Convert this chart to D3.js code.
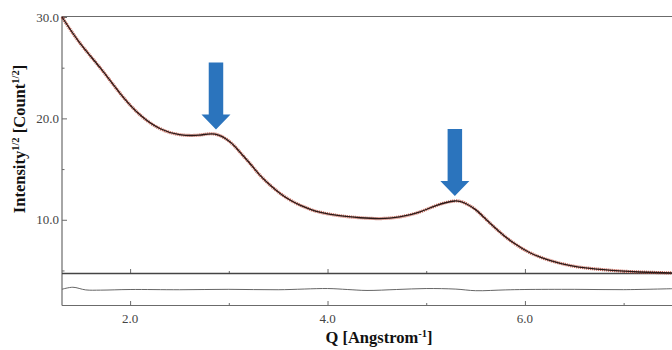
<!DOCTYPE html>
<html>
<head>
<meta charset="utf-8">
<script src="https://cdn.jsdelivr.net/npm/d3@7"></script>
<style>
  html, body { margin: 0; padding: 0; background: #fff; }
  svg { display: block; }
  text { font-family: "Liberation Serif", "Times New Roman", serif; }
</style>
</head>
<body>
<svg id="chart" width="672" height="350"></svg>
<script>
// Scattering profile: Q (1/Angstrom) vs sqrt(intensity)
const qValues = [1.31, 1.49, 1.70, 1.90, 2.10, 2.30, 2.50, 2.70, 2.86, 3.01, 3.11, 3.21, 3.31,
  3.42, 3.52, 3.62, 3.72, 3.82, 3.92, 4.12, 4.33, 4.53, 4.73, 4.93, 5.10, 5.29, 5.40, 5.50,
  5.61, 5.75, 5.88, 6.05, 6.25, 6.45, 6.66, 6.96, 7.16, 7.49];
const sqrtIntensity = [30.0, 27.45, 24.95, 22.45, 20.35, 19.0, 18.4, 18.35, 18.45, 17.7, 16.7,
  15.6, 14.45, 13.4, 12.6, 11.95, 11.45, 11.05, 10.75, 10.4, 10.2, 10.12, 10.28, 10.75, 11.4,
  11.85, 11.6, 11.0, 10.0, 8.75, 7.75, 6.75, 6.0, 5.5, 5.2, 4.95, 4.85, 4.75];

// Difference between observed and fitted profile
const residualQ = [1.31, 1.42, 1.55, 1.70, 2.00, 2.50, 3.00, 3.50, 4.00, 4.20, 4.40, 4.70,
  5.00, 5.30, 5.50, 5.80, 6.00, 6.50, 7.00, 7.49];
const residualValues = [0.03, 0.28, -0.05, -0.08, 0.0, -0.03, 0.02, -0.03, 0.12, 0.0, -0.12,
  0.0, 0.12, 0.05, -0.15, -0.05, 0.0, 0.02, -0.02, 0.10];

// Features marked with arrows
const peakQ = [2.87, 5.29];

const xMajorTicks = [2, 4, 6];
const xMinorTicks = [3, 5, 7];
const yMajorTicks = [10, 20, 30];
const yMinorTicks = [5, 15, 25];

const svg = d3.select("#chart");
const W = 672;
const plotLeft = 62, plotTop = 17, mainBottom = 273.5, resBottom = 305.5;

const x = d3.scaleLinear().domain([1.31, 7.49]).range([plotLeft, W]);
const y = d3.scaleLinear().domain([4.7, 30]).range([mainBottom, plotTop]);
const yRes = d3.scaleLinear().domain([-2, 2]).range([resBottom, mainBottom]);

const axisColor = "#6b6b6b";
const labelColor = "#444";

// Frame lines
svg.append("line").attr("x1", plotLeft).attr("x2", W).attr("y1", plotTop - 0.5).attr("y2", plotTop - 0.5)
  .attr("stroke", axisColor).attr("stroke-width", 1.2);
svg.append("line").attr("x1", plotLeft).attr("x2", plotLeft).attr("y1", plotTop - 1).attr("y2", resBottom)
  .attr("stroke", axisColor).attr("stroke-width", 1.2);
svg.append("line").attr("x1", plotLeft).attr("x2", W).attr("y1", resBottom).attr("y2", resBottom)
  .attr("stroke", axisColor).attr("stroke-width", 1.2);

// Y axis (ticks point into the plot)
const yAxisMajor = d3.axisRight(y).tickValues(yMajorTicks).tickSize(5).tickFormat("");
const yAxisMinor = d3.axisRight(y).tickValues(yMinorTicks).tickSize(2.5).tickFormat("");
[yAxisMajor, yAxisMinor].forEach(a => {
  const g = svg.append("g").attr("transform", `translate(${plotLeft},0)`).call(a);
  g.select(".domain").remove();
  g.selectAll("line").attr("stroke", axisColor).attr("stroke-width", 1);
});
svg.append("g").selectAll("text").data(yMajorTicks).join("text")
  .attr("x", plotLeft - 3).attr("y", d => y(d)).attr("dy", "0.35em")
  .attr("text-anchor", "end").attr("font-size", 13).attr("fill", labelColor)
  .text(d => d3.format(".1f")(d));

// X ticks on the bottom axis and on the panel divider
[resBottom, mainBottom].forEach(yy => {
  const gMaj = svg.append("g").attr("transform", `translate(0,${yy})`)
    .call(d3.axisTop(x).tickValues(xMajorTicks).tickSize(4.5).tickFormat(""));
  const gMin = svg.append("g").attr("transform", `translate(0,${yy})`)
    .call(d3.axisTop(x).tickValues(xMinorTicks).tickSize(2.5).tickFormat(""));
  [gMaj, gMin].forEach(g => {
    g.select(".domain").remove();
    g.selectAll("line").attr("stroke", axisColor).attr("stroke-width", 1);
  });
});
svg.append("g").selectAll("text").data(xMajorTicks).join("text")
  .attr("x", d => x(d)).attr("y", resBottom + 17)
  .attr("text-anchor", "middle").attr("font-size", 13).attr("fill", labelColor)
  .text(d => d3.format(".1f")(d));

// Divider between the profile and the residual strip
svg.append("line").attr("x1", plotLeft).attr("x2", W).attr("y1", mainBottom).attr("y2", mainBottom)
  .attr("stroke", "#444").attr("stroke-width", 1.5);

// Profile: observed points (red) under the fitted curve (black)
const profile = qValues.map((q, i) => [q, sqrtIntensity[i]]);
const line = d3.line().x(d => x(d[0])).y(d => y(d[1])).curve(d3.curveNatural);
svg.append("path").datum(profile).attr("d", line).attr("fill", "none")
  .attr("stroke", "#c0503f").attr("stroke-width", 3.2).attr("stroke-dasharray", "1.2,0.8")
  .attr("opacity", 0.85);
svg.append("path").datum(profile).attr("d", line).attr("fill", "none")
  .attr("stroke", "#2a1a18").attr("stroke-width", 1.3);

// Residual trace
const res = residualQ.map((q, i) => [q, residualValues[i]]);
svg.append("path").datum(res)
  .attr("d", d3.line().x(d => x(d[0])).y(d => yRes(d[1])).curve(d3.curveCatmullRom.alpha(0.5)))
  .attr("fill", "none").attr("stroke", "#555").attr("stroke-width", 0.9);

// Arrows marking the two features
const interp = q => {
  const i = d3.bisectLeft(qValues, q);
  if (i <= 0) return sqrtIntensity[0];
  const t = (q - qValues[i - 1]) / (qValues[i] - qValues[i - 1]);
  return sqrtIntensity[i - 1] + t * (sqrtIntensity[i] - sqrtIntensity[i - 1]);
};
peakQ.forEach(q => {
  const cx = x(q);
  const tip = y(interp(q)) - 5;
  const len = 67, headH = 15, shaftW = 14.5, headW = 29;
  const topY = tip - len, baseY = tip - headH;
  const pts = [
    [cx - shaftW / 2, topY], [cx + shaftW / 2, topY], [cx + shaftW / 2, baseY],
    [cx + headW / 2, baseY], [cx, tip], [cx - headW / 2, baseY], [cx - shaftW / 2, baseY]
  ];
  svg.append("path").attr("d", "M" + pts.map(p => p.join(",")).join("L") + "Z")
    .attr("fill", "#2b74bd");
});

// Axis titles
const yTitle = svg.append("text")
  .attr("transform", `translate(25,139) rotate(-90)`)
  .attr("text-anchor", "middle").attr("font-size", 16.5).attr("font-weight", "bold").attr("fill", "#111");
yTitle.append("tspan").text("Intensity");
yTitle.append("tspan").attr("font-size", 10.5).attr("dy", -6).text("1/2");
yTitle.append("tspan").attr("dy", 6).text(" [Count");
yTitle.append("tspan").attr("font-size", 10.5).attr("dy", -6).text("1/2");
yTitle.append("tspan").attr("dy", 6).text("]");

const xTitle = svg.append("text")
  .attr("x", 379).attr("y", 343)
  .attr("text-anchor", "middle").attr("font-size", 16.5).attr("font-weight", "bold").attr("fill", "#111");
xTitle.append("tspan").text("Q [Angstrom");
xTitle.append("tspan").attr("font-size", 10.5).attr("dy", -6).text("-1");
xTitle.append("tspan").attr("dy", 6).text("]");
</script>
</body>
</html>
